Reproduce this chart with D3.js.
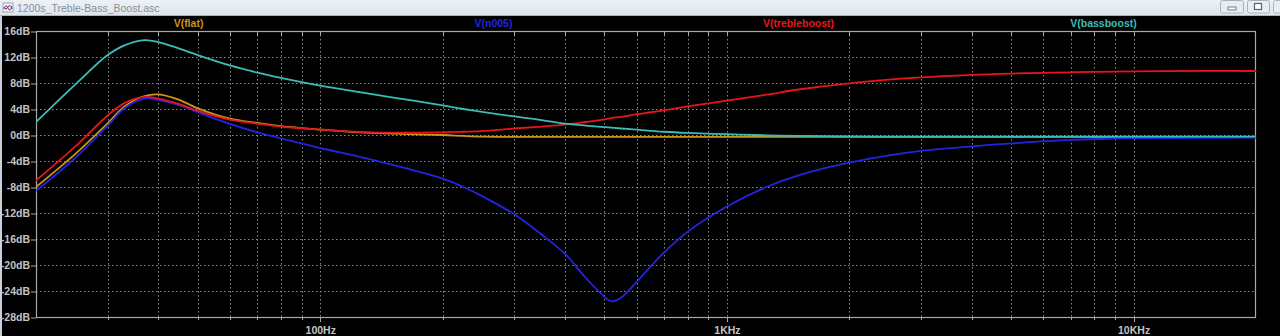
<!DOCTYPE html>
<html>
<head>
<meta charset="utf-8">
<script src="https://cdn.jsdelivr.net/npm/d3@7"></script>
<style>
  html, body { margin: 0; padding: 0; background: #000; }
  svg { display: block; }
</style>
</head>
<body>
<svg id="chart"></svg>
<script>
// frequency points (Hz) shared by every trace
const freqs = [20, 25, 30, 33, 37, 40, 45, 50, 60, 70, 80, 100, 125, 150, 200, 225, 250, 300,
  350, 400, 450, 500, 520, 550, 600, 650, 700, 800, 1000, 1250, 1500, 2000, 3000, 4000, 5000,
  7000, 10000, 15000, 20000]

// magnitudes in dB
const flatDb = [-8.0, -2.9, 1.8, 4.4, 6.0, 6.25, 5.4, 4.1, 2.5, 1.85, 1.35, 0.83, 0.42, 0.2, 0.0, -0.15, -0.25, -0.28,
  -0.3, -0.3, -0.3, -0.3, -0.3, -0.3, -0.3, -0.3, -0.3, -0.3, -0.3, -0.3, -0.3, -0.3, -0.3, -0.3, -0.3,
  -0.3, -0.3, -0.3, -0.3]
const n005Db = [-8.6, -3.5, 1.4, 4.1, 5.6, 5.35, 4.6, 3.5, 1.7, 0.4, -0.5, -2.0, -3.35, -4.55, -6.7, -8.0, -9.4, -12.2,
  -15.3, -18.3, -22.0, -24.9, -25.6, -25.0, -22.6, -20.2, -18.1, -14.9, -11.0, -8.0, -6.2, -4.25, -2.45, -1.75, -1.3,
  -0.75, -0.5, -0.45, -0.4]
const trebleDb = [-7.0, -1.75, 3.0, 4.9, 5.85, 5.6, 4.75, 3.7, 2.35, 1.75, 1.3, 0.85, 0.45, 0.35, 0.4, 0.5, 0.6, 1.0,
  1.3, 1.6, 2.0, 2.4, 2.6, 2.8, 3.2, 3.5, 3.8, 4.4, 5.3, 6.2, 7.0, 7.95, 8.85, 9.25, 9.45,
  9.65, 9.8, 9.85, 9.85]
const bassDb = [2.0, 7.8, 12.3, 13.8, 14.6, 14.3, 13.3, 12.3, 10.7, 9.6, 8.8, 7.6, 6.6, 5.8, 4.55, 4.0, 3.55, 2.85,
  2.3, 1.75, 1.45, 1.22, 1.12, 1.0, 0.82, 0.65, 0.5, 0.32, 0.12, -0.05, -0.15, -0.22, -0.25, -0.25, -0.25,
  -0.25, -0.25, -0.25, -0.25]

const seriesNames = ['V(flat)', 'V(n005)', 'V(trebleboost)', 'V(bassboost)']
const seriesColors = ['#c8961c', '#2424e0', '#e8141c', '#3cbcb8']
const yTicks = [16, 12, 8, 4, 0, -4, -8, -12, -16, -20, -24, -28]
const xTickValues = [100, 1000, 10000]
const xTickLabels = ['100Hz', '1KHz', '10KHz']
const windowTitle = '1200s_Treble-Bass_Boost.asc'

const width = 1280
const height = 336
const plot = { left: 36, right: 1256, top: 31, bottom: 317 }

const svg = d3.select('#chart').attr('width', width).attr('height', height)

svg.append('rect').attr('width', width).attr('height', height).attr('fill', '#000')

// WINDOW CHROME
const grad = svg.append('defs').append('linearGradient')
  .attr('id', 'titleGrad').attr('x1', 0).attr('y1', 0).attr('x2', 0).attr('y2', 1)
grad.append('stop').attr('offset', '0%').attr('stop-color', '#eef2f7')
grad.append('stop').attr('offset', '100%').attr('stop-color', '#dde4ec')
svg.append('rect').attr('x', 0).attr('y', 0).attr('width', width).attr('height', 15)
  .attr('fill', 'url(#titleGrad)')
svg.append('line').attr('x1', 0).attr('x2', width).attr('y1', 15.5).attr('y2', 15.5)
  .attr('stroke', '#a9b3be')
svg.append('rect').attr('x', 0).attr('y', 16).attr('width', 2).attr('height', height - 16)
  .attr('fill', '#c9d1da')

const icon = svg.append('g').attr('transform', 'translate(3,3)')
icon.append('rect').attr('width', 10).attr('height', 9).attr('fill', '#f4f4f4').attr('stroke', '#9aa4b0')
icon.append('path').attr('d', 'M1,6 Q3,0 5,5 T9,3').attr('fill', 'none').attr('stroke', '#d02020')
icon.append('path').attr('d', 'M1,4 Q3,8 5,4 T9,6').attr('fill', 'none').attr('stroke', '#2040d0')

svg.append('text').attr('x', 17).attr('y', 11.5).text(windowTitle)
  .attr('font-family', 'Liberation Sans, Arial, sans-serif').attr('font-size', 10.5)
  .attr('fill', '#8a8f96')

const btns = [{ x: 1220, w: 23 }, { x: 1247, w: 22 }, { x: 1273, w: 22 }]
btns.forEach((b, i) => {
  svg.append('rect').attr('x', b.x + 0.5).attr('y', 0.5).attr('width', b.w).attr('height', 12.5)
    .attr('rx', 2).attr('fill', '#e7edf3').attr('stroke', '#aab4bf')
  if (i === 0) {
    svg.append('rect').attr('x', b.x + 8).attr('y', 7).attr('width', 8).attr('height', 3)
      .attr('fill', '#fff').attr('stroke', '#59626c').attr('stroke-width', 0.8)
  } else if (i === 1) {
    svg.append('rect').attr('x', b.x + 7.5).attr('y', 3.5).attr('width', 7).attr('height', 6)
      .attr('fill', '#fff').attr('stroke', '#59626c').attr('stroke-width', 1.2)
  }
})

// SCALES
const x = d3.scaleLog().domain([20, 20000]).range([plot.left, plot.right])
const y = d3.scaleLinear().domain([-28, 16]).range([plot.bottom, plot.top])

// GRID
const gridFreqs = []
;[10, 100, 1000, 10000].forEach(dec => {
  for (let m = 1; m <= 9; m++) {
    const f = dec * m
    if (f > 20 && f < 20000) gridFreqs.push(f)
  }
})

const grid = svg.append('g').attr('class', 'grid')
  .attr('stroke', '#8a8a8a').attr('stroke-width', 1).attr('stroke-dasharray', '1.5,2.5')
grid.selectAll('.vgrid').data(gridFreqs).enter().append('line')
  .attr('class', 'vgrid')
  .attr('x1', d => Math.round(x(d)) + 0.5).attr('x2', d => Math.round(x(d)) + 0.5)
  .attr('y1', plot.top).attr('y2', plot.bottom)
grid.selectAll('.hgrid').data(yTicks.filter(t => t !== 16 && t !== -28)).enter().append('line')
  .attr('class', 'hgrid')
  .attr('x1', plot.left).attr('x2', plot.right)
  .attr('y1', d => Math.round(y(d)) + 0.5).attr('y2', d => Math.round(y(d)) + 0.5)

// small ticks along top and bottom borders
const tickMarks = svg.append('g').attr('stroke', '#a8a8a8').attr('stroke-width', 1)
tickMarks.selectAll('.ttick').data(gridFreqs).enter().append('line')
  .attr('x1', d => Math.round(x(d)) + 0.5).attr('x2', d => Math.round(x(d)) + 0.5)
  .attr('y1', plot.top).attr('y2', plot.top + 4)
tickMarks.selectAll('.btick').data(gridFreqs).enter().append('line')
  .attr('x1', d => Math.round(x(d)) + 0.5).attr('x2', d => Math.round(x(d)) + 0.5)
  .attr('y1', plot.bottom).attr('y2', d => plot.bottom + (xTickValues.includes(d) ? 5 : 3))

// AXES
const fontFamily = 'Liberation Sans, Arial, sans-serif'
const yAxis = d3.axisLeft(y).tickValues(yTicks).tickSize(5).tickPadding(1)
  .tickFormat(d => d + 'dB')
const yG = svg.append('g').attr('transform', `translate(${plot.left},0)`).call(yAxis)
yG.select('.domain').remove()
yG.selectAll('line').attr('stroke', '#a8a8a8')
  .attr('transform', d => `translate(0,${Math.round(y(d)) + 0.5 - y(d)})`)
yG.selectAll('text').attr('fill', '#c4c4c4').attr('font-family', fontFamily)
  .attr('font-size', 10.5).attr('font-weight', 'bold')

const xAxis = d3.axisBottom(x).tickValues(xTickValues).tickSize(0).tickPadding(10)
  .tickFormat((d, i) => xTickLabels[i])
const xG = svg.append('g').attr('transform', `translate(0,${plot.bottom})`).call(xAxis)
xG.select('.domain').remove()
xG.selectAll('text').attr('fill', '#c4c4c4').attr('font-family', fontFamily)
  .attr('font-size', 10.5).attr('font-weight', 'bold')

// FRAME
svg.append('rect')
  .attr('x', plot.left + 0.5).attr('y', plot.top + 0.5)
  .attr('width', plot.right - plot.left - 1).attr('height', plot.bottom - plot.top)
  .attr('fill', 'none').attr('stroke', '#a8a8a8').attr('stroke-width', 1.2)

// TRACES
const seriesValues = [flatDb, n005Db, trebleDb, bassDb]
const line = d3.line()
  .x(d => x(d.f))
  .y(d => y(d.db))
  .curve(d3.curveCatmullRom.alpha(0.5))

svg.append('defs').append('clipPath').attr('id', 'plotClip')
  .append('rect').attr('x', plot.left).attr('y', plot.top)
  .attr('width', plot.right - plot.left).attr('height', plot.bottom - plot.top)

svg.append('g').attr('clip-path', 'url(#plotClip)')
  .selectAll('.trace')
  .data(seriesValues)
  .enter()
  .append('path')
  .attr('class', 'trace')
  .attr('d', vals => line(freqs.map((f, i) => ({ f, db: vals[i] }))))
  .attr('fill', 'none')
  .attr('stroke', (_, i) => seriesColors[i])
  .attr('stroke-width', 1.8)

// LEGEND
const slot = (plot.right - plot.left) / seriesNames.length
svg.selectAll('.legend')
  .data(seriesNames)
  .enter()
  .append('text')
  .attr('class', 'legend')
  .attr('x', (_, i) => plot.left + slot * (i + 0.5))
  .attr('y', 26.5)
  .attr('text-anchor', 'middle')
  .attr('font-family', fontFamily)
  .attr('font-size', 10.5)
  .attr('font-weight', 'bold')
  .attr('fill', (_, i) => seriesColors[i])
  .text(d => d)
</script>
</body>
</html>
